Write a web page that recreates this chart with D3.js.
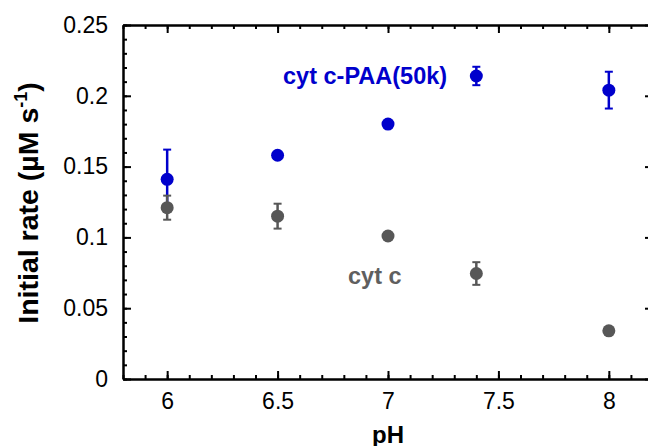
<!DOCTYPE html>
<html>
<head>
<meta charset="utf-8">
<script src="https://cdn.jsdelivr.net/npm/d3@7"></script>
<style>
body { margin: 0; background: #fff; }
text { font-family: Arial, "Liberation Sans", sans-serif; }
</style>
</head>
<body>
<svg></svg>
<script>
var width = 648;
var height = 446;
var plotLeft = 123, plotRight = 653, plotTop = 25, plotBottom = 379;

// data
var pH = [6, 6.5, 7, 7.4, 8];
var paaRate = [0.141, 0.158, 0.180, 0.214, 0.204];
var paaErr = [0.021, 0.002, 0.002, 0.0065, 0.013];
var cytRate = [0.121, 0.115, 0.101, 0.0745, 0.034];
var cytErr = [0.0085, 0.0088, 0.001, 0.008, 0.001];
var xTicks = [6, 6.5, 7, 7.5, 8];
var yTicks = [0, 0.05, 0.1, 0.15, 0.2, 0.25];

var blue = '#0000cc';
var grey = '#575757';

var svg = d3.select('svg')
    .attr('width', width)
    .attr('height', height);

var Xscale = d3.scaleLinear().domain([5.8, 8.2]).range([plotLeft, plotRight]);
var Yscale = d3.scaleLinear().domain([0, 0.25]).range([plotBottom, plotTop]);

var xMinor = d3.range(58, 83).map(d => d / 10);
var yMinor = d3.range(0, 26).map(d => d / 100);

function styleAxis(g) {
    g.select('.domain').attr('stroke', '#000').attr('stroke-width', 2);
    g.selectAll('.tick line').attr('stroke', '#000').attr('stroke-width', 2);
    g.selectAll('text')
        .attr('fill', '#000')
        .style('font-size', '23px')
        .style('font-family', 'Arial, "Liberation Sans", sans-serif');
}

// minor ticks
svg.append('g').attr('transform', `translate(0,${plotBottom})`)
    .call(d3.axisBottom(Xscale).tickValues(xMinor).tickSize(-4).tickFormat('').tickSizeOuter(0)).call(styleAxis);
svg.append('g').attr('transform', `translate(0,${plotTop})`)
    .call(d3.axisTop(Xscale).tickValues(xMinor).tickSize(-4).tickFormat('').tickSizeOuter(0)).call(styleAxis);
svg.append('g').attr('transform', `translate(${plotLeft},0)`)
    .call(d3.axisLeft(Yscale).tickValues(yMinor).tickSize(-4).tickFormat('').tickSizeOuter(0)).call(styleAxis);
svg.append('g').attr('transform', `translate(${plotRight},0)`)
    .call(d3.axisRight(Yscale).tickValues(yMinor).tickSize(-4).tickFormat('').tickSizeOuter(0)).call(styleAxis);

// major ticks + labels
svg.append('g').attr('transform', `translate(0,${plotBottom})`)
    .call(d3.axisBottom(Xscale).tickValues(xTicks).tickSize(-8).tickSizeOuter(0).tickPadding(14).tickFormat(d => String(d)))
    .call(styleAxis);
svg.append('g').attr('transform', `translate(0,${plotTop})`)
    .call(d3.axisTop(Xscale).tickValues(xTicks).tickSize(-8).tickSizeOuter(0).tickFormat(''))
    .call(styleAxis);
svg.append('g').attr('transform', `translate(${plotLeft},0)`)
    .call(d3.axisLeft(Yscale).tickValues(yTicks).tickSize(-8).tickSizeOuter(0).tickPadding(15).tickFormat(d => String(+d.toFixed(2))))
    .call(styleAxis);
svg.append('g').attr('transform', `translate(${plotRight},0)`)
    .call(d3.axisRight(Yscale).tickValues(yTicks).tickSize(-8).tickSizeOuter(0).tickFormat(''))
    .call(styleAxis);

// series
function drawSeries(rates, errs, color) {
    var data = pH.map((p, i) => ({ x: p, y: rates[i], e: errs[i] }));
    var g = svg.append('g');
    var bars = g.selectAll('g.err').data(data).enter().append('g');
    bars.append('line')
        .attr('x1', d => Xscale(d.x)).attr('x2', d => Xscale(d.x))
        .attr('y1', d => Yscale(d.y - d.e)).attr('y2', d => Yscale(d.y + d.e))
        .attr('stroke', color).attr('stroke-width', 2.5);
    [-1, 1].forEach(function (s) {
        bars.append('line')
            .attr('x1', d => Xscale(d.x) - 4).attr('x2', d => Xscale(d.x) + 4)
            .attr('y1', d => Yscale(d.y + s * d.e)).attr('y2', d => Yscale(d.y + s * d.e))
            .attr('stroke', color).attr('stroke-width', 2);
    });
    g.selectAll('circle').data(data).enter().append('circle')
        .attr('cx', d => Xscale(d.x))
        .attr('cy', d => Yscale(d.y))
        .attr('r', 6.5)
        .attr('fill', color);
}
drawSeries(paaRate, paaErr, blue);
drawSeries(cytRate, cytErr, grey);

// series labels
svg.append('text')
    .attr('x', 283).attr('y', 84)
    .attr('fill', blue)
    .style('font-size', '23.5px')
    .style('font-weight', 'bold')
    .text('cyt c-PAA(50k)');

svg.append('text')
    .attr('x', 348).attr('y', 284)
    .attr('fill', '#5f5f5f')
    .style('font-size', '23.5px')
    .style('font-weight', 'bold')
    .text('cyt c');

// axis titles
svg.append('text')
    .attr('text-anchor', 'middle')
    .attr('x', Xscale(7))
    .attr('y', 443)
    .style('font-size', '24px')
    .style('font-weight', 'bold')
    .text('pH');

var yTitle = svg.append('text')
    .attr('text-anchor', 'middle')
    .attr('transform', `translate(38,203) rotate(-90)`)
    .style('font-size', '28.5px')
    .style('font-weight', 'bold');
yTitle.append('tspan').text('Initial rate (\u00b5M s');
yTitle.append('tspan').attr('dy', -11).style('font-size', '18px').text('-1');
yTitle.append('tspan').attr('dy', 11).text(')');
</script>
</body>
</html>
